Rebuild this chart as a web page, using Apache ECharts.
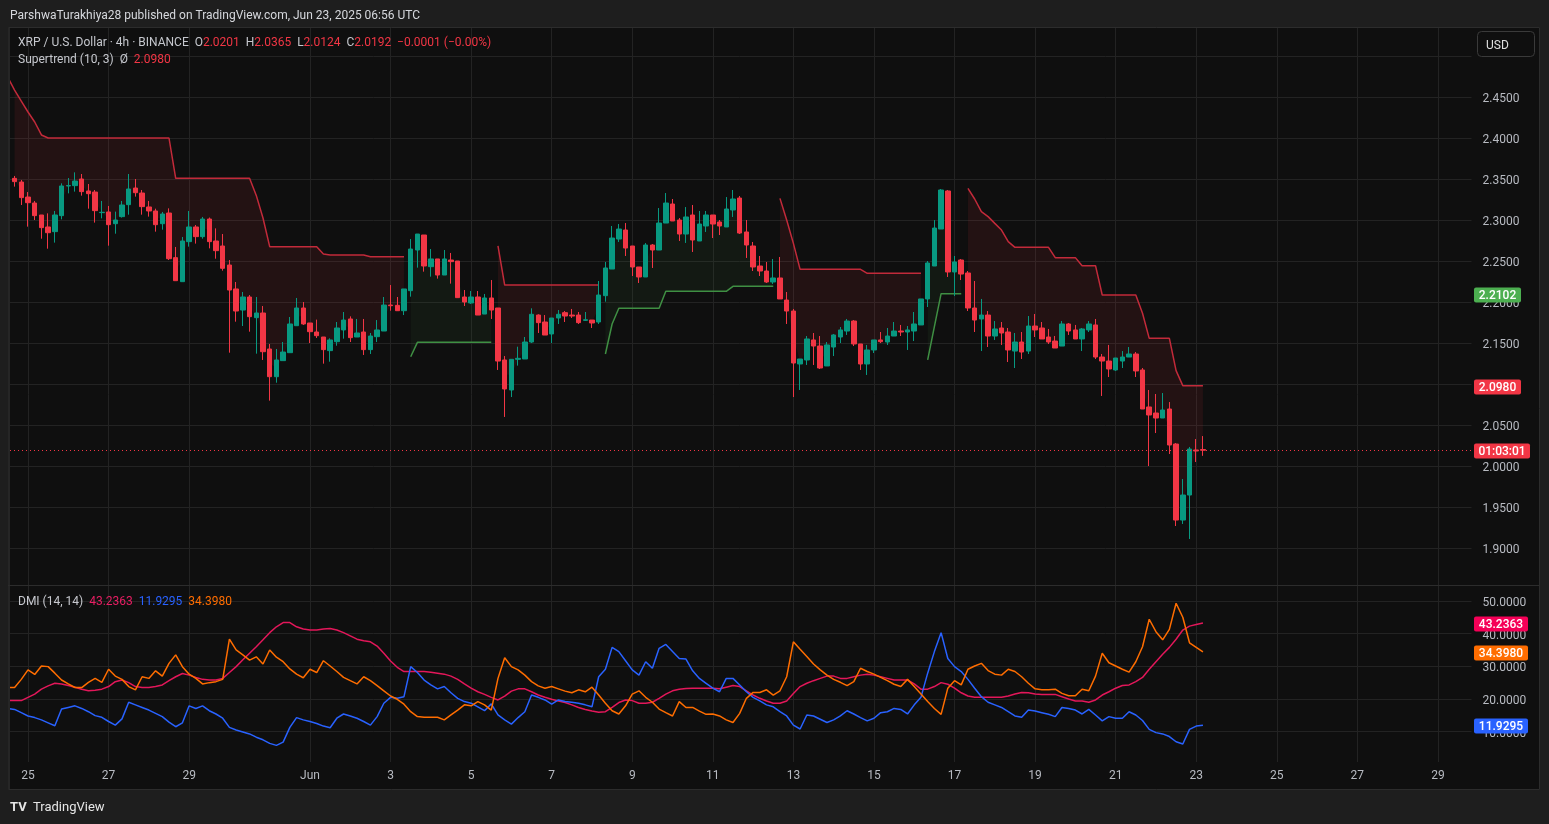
<!DOCTYPE html>
<html><head><meta charset="utf-8">
<script src="https://cdn.jsdelivr.net/npm/echarts/dist/echarts.min.js"></script>
<style>html,body{margin:0;padding:0;background:#1e1e1e;}#c{width:1549px;height:824px;}</style>
</head><body><div id="c"></div><script>
const _ = null;
// ---- OHLC (4h bars, first bar 2025-05-24 16:00 UTC) ----
const opens = [
2.3508,2.3463,2.3280,2.3207,2.3061,2.2915,2.2858,2.3053,2.3415,2.3419,
2.3500,2.3354,2.3341,2.3090,2.3098,2.2955,2.3041,2.3187,2.3390,2.3329,
2.3159,2.3110,2.2955,2.3085,2.2541,2.2248,2.2736,2.2915,2.2797,2.3012,
2.2744,2.2683,2.2451,2.2159,2.1902,2.2061,2.1809,2.1866,2.1427,2.1089,
2.1285,2.1382,2.1711,2.1927,2.1744,2.1634,2.1573,2.1407,2.1516,2.1659,
2.1793,2.1573,2.1634,2.1419,2.1577,2.1646,2.1963,2.1959,2.1894,2.2138,
2.2634,2.2817,2.2431,2.2525,2.2329,2.2512,2.2500,2.2061,2.1988,2.2061,
2.1853,2.2049,2.1927,2.1293,2.0927,2.1301,2.1305,2.1512,2.1841,2.1756,
2.1610,2.1805,2.1870,2.1841,2.1841,2.1776,2.1780,2.1756,2.2077,2.2402,
2.2768,2.2878,2.2683,2.2427,2.2305,2.2695,2.2634,2.2963,2.3195,2.3000,
2.2829,2.3061,2.2744,2.2927,2.3061,2.2976,2.2915,2.3122,2.3268,2.2854,
2.2683,2.2439,2.2378,2.2244,2.2293,2.2024,2.1890,2.1244,2.1293,2.1537,
2.1463,2.1220,2.1451,2.1573,2.1646,2.1768,2.1488,2.1244,2.1415,2.1537,
2.1512,2.1585,2.1646,2.1634,2.1646,2.1720,2.2037,2.2439,2.2890,2.3354,
2.2366,2.2512,2.2354,2.1927,2.1793,2.1841,2.1585,2.1683,2.1634,2.1402,
2.1512,2.1402,2.1707,2.1683,2.1573,2.1524,2.1463,2.1732,2.1659,2.1549,
2.1659,2.1720,2.1329,2.1280,2.1171,2.1280,2.1329,2.1366,2.1171,2.0720,
2.0646,2.0585,2.0695,2.0268,1.9341,1.9646,2.0195,2.0201];
const highs = [
2.3537,2.3488,2.3341,2.3232,2.3061,2.3081,2.3110,2.3447,2.3512,2.3581,
2.3561,2.3439,2.3366,2.3232,2.3171,2.3102,2.3232,2.3561,2.3500,2.3366,
2.3232,2.3138,2.3098,2.3142,2.2671,2.2793,2.3110,2.2939,2.3037,2.3030,
2.2898,2.2829,2.2512,2.2244,2.2122,2.2085,2.2061,2.1951,2.1488,2.1427,
2.1512,2.1817,2.2049,2.2000,2.1744,2.1785,2.1573,2.1557,2.1756,2.1878,
2.1825,2.1793,2.1793,2.1622,2.1780,2.2061,2.2207,2.2061,2.2159,2.2768,
2.2829,2.2817,2.2646,2.2525,2.2634,2.2598,2.2500,2.2146,2.2134,2.2134,
2.2098,2.2268,2.1927,2.1341,2.1301,2.1455,2.1573,2.1923,2.1850,2.1841,
2.1805,2.1902,2.1890,2.1915,2.1878,2.1878,2.1780,2.2256,2.2488,2.2927,
2.2951,2.2963,2.2683,2.2427,2.2719,2.2707,2.3146,2.3329,2.3256,2.3024,
2.3158,2.3183,2.3110,2.3110,2.3061,2.3000,2.3280,2.3366,2.3293,2.3000,
2.2732,2.2561,2.2488,2.2524,2.2549,2.2122,2.1915,2.1305,2.1585,2.1622,
2.1585,2.1512,2.1610,2.1695,2.1793,2.1780,2.1488,2.1476,2.1537,2.1634,
2.1683,2.1756,2.1720,2.1707,2.1878,2.2037,2.2500,2.2999,2.3378,2.3366,
2.2561,2.2524,2.2378,2.2256,2.2037,2.1890,2.1768,2.1756,2.1683,2.1622,
2.1634,2.1829,2.1854,2.1756,2.1671,2.1585,2.1768,2.1744,2.1720,2.1683,
2.1768,2.1793,2.1366,2.1476,2.1317,2.1402,2.1451,2.1390,2.1195,2.0927,
2.0878,2.0890,2.0780,2.0280,1.9841,2.0232,2.0329,2.0365];
const lows = [
2.3407,2.3183,2.2919,2.3000,2.2772,2.2650,2.2724,2.3008,2.3325,2.3346,
2.3297,2.3138,2.2968,2.3020,2.2687,2.2833,2.3029,2.3065,2.3285,2.3065,
2.3041,2.2858,2.2882,2.2512,2.2260,2.2248,2.2675,2.2712,2.2772,2.2654,
2.2528,2.2382,2.1382,2.1760,2.1707,2.1638,2.1370,2.1293,2.0797,2.1016,
2.1285,2.1382,2.1711,2.1720,2.1500,2.1561,2.1248,2.1272,2.1467,2.1553,
2.1512,2.1573,2.1354,2.1366,2.1512,2.1646,2.1894,2.1890,2.1841,2.2065,
2.2419,2.2370,2.2309,2.2285,2.2329,2.2224,2.2053,2.1951,2.1976,2.1841,
2.1853,2.1793,2.1171,2.0598,2.0841,2.1224,2.1305,2.1500,2.1622,2.1597,
2.1500,2.1732,2.1756,2.1805,2.1732,2.1768,2.1683,2.1732,2.2004,2.2402,
2.2732,2.2561,2.2317,2.2232,2.2305,2.2415,2.2634,2.2963,2.2988,2.2744,
2.2720,2.2610,2.2744,2.2854,2.2780,2.2817,2.2915,2.3037,2.2829,2.2537,
2.2378,2.2317,2.2232,2.2220,2.2037,2.1732,2.0841,2.0927,2.1232,2.1232,
2.1183,2.1220,2.1341,2.1500,2.1598,2.1463,2.1171,2.1110,2.1378,2.1500,
2.1476,2.1585,2.1585,2.1415,2.1524,2.1720,2.1939,2.2439,2.2890,2.2305,
2.2073,2.2268,2.1890,2.1634,2.1402,2.1451,2.1537,2.1476,2.1268,2.1195,
2.1305,2.1366,2.1573,2.1549,2.1488,2.1439,2.1463,2.1598,2.1549,2.1402,
2.1634,2.1305,2.0854,2.1085,2.1159,2.1195,2.1329,2.1085,2.0695,2.0000,
2.0402,2.0585,2.0146,1.9268,1.9293,1.9110,2.0049,2.0124];
const closes = [
2.3468,2.3273,2.3211,2.3053,2.2907,2.2845,2.3061,2.3415,2.3420,2.3475,
2.3346,2.3321,2.3114,2.3094,2.2943,2.3000,2.3183,2.3378,2.3333,2.3163,
2.3110,2.2943,2.3073,2.2528,2.2260,2.2744,2.2915,2.2797,2.3012,2.2736,
2.2626,2.2411,2.2146,2.1890,2.2061,2.1821,2.1866,2.1394,2.1089,2.1293,
2.1390,2.1732,2.1927,2.1732,2.1638,2.1589,2.1419,2.1537,2.1683,2.1780,
2.1565,2.1622,2.1419,2.1585,2.1659,2.1963,2.1955,2.1894,2.2159,2.2646,
2.2829,2.2439,2.2525,2.2329,2.2525,2.2492,2.2053,2.2000,2.2061,2.1841,
2.2049,2.1902,2.1280,2.0939,2.1301,2.1313,2.1512,2.1850,2.1748,2.1597,
2.1805,2.1850,2.1829,2.1829,2.1748,2.1784,2.1744,2.2085,2.2415,2.2780,
2.2890,2.2658,2.2427,2.2305,2.2695,2.2634,2.2963,2.3207,2.2988,2.2829,
2.3037,2.2756,2.2951,2.3061,2.2951,2.2927,2.3134,2.3256,2.2841,2.2695,
2.2427,2.2378,2.2244,2.2293,2.2037,2.1890,2.1256,2.1305,2.1549,2.1463,
2.1195,2.1476,2.1598,2.1659,2.1768,2.1488,2.1244,2.1415,2.1537,2.1516,
2.1585,2.1646,2.1634,2.1659,2.1732,2.2037,2.2476,2.2902,2.3366,2.2366,
2.2488,2.2341,2.1927,2.1780,2.1841,2.1585,2.1671,2.1622,2.1415,2.1512,
2.1390,2.1707,2.1659,2.1549,2.1512,2.1439,2.1732,2.1646,2.1549,2.1671,
2.1732,2.1329,2.1280,2.1183,2.1317,2.1329,2.1366,2.1159,2.0695,2.0622,
2.0585,2.0683,2.0256,1.9341,1.9646,2.0207,2.0183,2.0192];
// ---- Supertrend (10,3); first entry is the slot just before the first visible bar ----
const stDown = [2.4740,
2.4585,2.4451,2.4317,2.4195,2.4037,2.4000,2.4000,2.4000,2.4000,2.4000,
2.4000,2.4000,2.4000,2.4000,2.4000,2.4000,2.4000,2.4000,2.4000,2.4000,
2.4000,2.4000,2.4000,2.4000,2.3508,2.3508,2.3508,2.3508,2.3508,2.3508,
2.3508,2.3508,2.3508,2.3508,2.3508,2.3508,2.3300,2.3024,2.2675,2.2675,
2.2675,2.2675,2.2675,2.2675,2.2675,2.2675,2.2585,2.2573,2.2573,2.2573,
2.2573,2.2573,2.2573,2.2553,2.2553,2.2553,2.2553,2.2553,2.2553,_,
_,_,_,_,_,_,_,_,_,_,
_,_,2.2683,2.2207,2.2207,2.2207,2.2207,2.2207,2.2207,2.2207,
2.2207,2.2207,2.2207,2.2207,2.2207,2.2207,2.2207,2.2207,_,_,
_,_,_,_,_,_,_,_,_,_,
_,_,_,_,_,_,_,_,_,_,
_,_,_,_,2.3264,2.3000,2.2715,2.2398,2.2398,2.2398,
2.2398,2.2398,2.2398,2.2398,2.2398,2.2398,2.2398,2.2350,2.2350,2.2350,
2.2350,2.2350,2.2350,2.2350,2.2350,2.2350,_,_,_,_,
_,_,2.3386,2.3256,2.3102,2.3041,2.2959,2.2878,2.2736,2.2667,
2.2667,2.2667,2.2667,2.2667,2.2667,2.2541,2.2541,2.2541,2.2541,2.2443,
2.2443,2.2443,2.2085,2.2085,2.2085,2.2085,2.2085,2.2085,2.1862,2.1557,
2.1557,2.1557,2.1557,2.1163,2.0980,2.0980,2.0980,2.0980];
const stUp = [_,
_,_,_,_,_,_,_,_,_,_,
_,_,_,_,_,_,_,_,_,_,
_,_,_,_,_,_,_,_,_,_,
_,_,_,_,_,_,_,_,_,_,
_,_,_,_,_,_,_,_,_,_,
_,_,_,_,_,_,_,_,_,2.1333,
2.1508,2.1508,2.1508,2.1508,2.1508,2.1508,2.1508,2.1508,2.1508,2.1508,
2.1508,2.1508,_,_,_,_,_,_,_,_,
_,_,_,_,_,_,_,_,2.1366,2.1732,
2.1923,2.1923,2.1923,2.1923,2.1923,2.1923,2.1923,2.2130,2.2130,2.2130,
2.2130,2.2130,2.2130,2.2130,2.2130,2.2130,2.2130,2.2191,2.2191,2.2191,
2.2191,2.2191,2.2191,2.2191,_,_,_,_,_,_,
_,_,_,_,_,_,_,_,_,_,
_,_,_,_,_,_,2.1293,2.1699,2.2102,2.2102,
2.2102,2.2102,_,_,_,_,_,_,_,_,
_,_,_,_,_,_,_,_,_,_,
_,_,_,_,_,_,_,_,_,_,
_,_,_,_,_,_,_,_];
// ---- DMI (14,14); first entry is the slot just before the first visible bar ----
const adx = [19.5,
19.5,19.5,20.5,21.5,23.0,24.0,24.8,24.6,24.1,23.6,
23.0,22.5,22.7,23.0,23.8,25.3,25.8,25.0,23.8,23.5,
23.5,23.8,24.3,25.6,26.8,27.8,27.3,26.6,26.0,25.8,
25.8,26.3,28.1,29.9,32.0,34.0,36.0,38.1,40.3,42.1,
43.4,43.4,42.1,41.4,41.1,41.1,41.4,41.6,41.1,40.3,
39.3,38.3,37.8,37.5,36.2,34.0,31.6,29.7,28.4,28.4,
28.4,28.4,28.2,27.9,27.6,27.0,26.0,24.6,23.3,22.2,
21.4,20.5,19.7,20.9,22.4,23.1,23.1,22.2,21.2,20.5,
19.9,19.4,18.9,18.2,17.4,16.8,16.3,15.9,16.1,17.4,
18.9,19.7,19.5,18.7,18.7,19.0,20.2,21.5,22.5,23.0,
23.2,23.3,23.3,23.3,23.3,23.1,23.6,24.1,23.8,22.5,
21.2,20.2,19.4,18.7,18.7,19.4,21.7,23.8,24.8,25.6,
26.3,27.0,27.0,26.3,26.3,26.8,27.3,27.6,27.3,26.8,
26.3,25.8,25.8,25.8,24.6,23.0,23.0,23.8,25.0,24.5,
23.3,21.9,20.9,20.5,20.5,20.5,20.5,20.5,20.9,21.5,
22.0,21.9,21.5,21.4,21.4,21.4,20.7,20.0,19.4,19.4,
19.0,19.7,21.2,22.2,23.3,24.1,24.3,25.3,26.6,29.1,
31.4,33.7,35.8,38.3,41.1,42.3,42.8,43.2363];
const plusDI = [17.1,
16.8,15.8,14.8,14.3,13.6,12.7,11.8,16.9,17.4,17.9,
17.1,16.1,14.9,14.4,13.1,12.0,13.9,19.0,18.2,17.4,
16.6,15.6,14.6,12.9,11.5,12.7,17.9,17.1,17.9,16.4,
15.4,14.1,11.3,10.5,9.9,9.3,8.3,7.5,6.4,5.8,
6.8,11.3,14.3,13.6,13.1,12.5,11.7,11.2,14.1,15.4,
14.8,14.1,13.1,12.0,14.6,18.7,20.5,20.2,20.7,29.9,
28.1,25.8,24.3,23.1,23.8,21.9,20.2,19.2,18.7,17.6,
16.4,18.5,15.1,13.6,12.3,14.3,16.1,21.2,20.5,19.7,
18.4,19.7,19.2,19.0,18.7,18.2,17.6,26.8,29.1,35.8,
34.5,31.7,28.9,27.3,31.4,29.4,35.5,36.7,34.5,32.4,
32.2,28.6,26.3,24.8,23.3,22.2,26.3,26.3,24.3,22.2,
20.5,19.4,18.2,17.6,16.1,14.8,12.0,10.8,15.1,14.8,
13.8,12.8,13.6,14.8,16.4,15.4,14.3,13.3,14.1,15.8,
16.1,17.1,16.8,15.4,18.2,20.5,27.9,34.5,40.3,32.4,
29.9,28.4,26.0,23.3,20.7,19.0,18.2,17.4,16.1,14.8,
14.4,16.6,16.3,15.8,15.3,14.6,17.4,17.1,16.6,15.4,
16.8,15.1,13.3,14.6,14.1,14.1,16.1,15.1,13.4,10.7,
9.7,9.3,8.5,6.9,6.2,10.7,11.7,11.9295];
const minusDI = [23.5,
23.5,26.0,28.9,27.5,30.1,29.9,27.9,25.8,24.6,23.5,
23.5,25.1,26.3,25.1,29.1,27.0,26.0,23.8,22.8,26.8,
26.3,28.6,27.0,30.9,33.5,29.9,27.6,26.3,24.6,25.0,
25.3,26.0,38.3,35.0,33.5,31.9,32.9,30.7,35.0,32.8,
31.4,29.2,27.6,26.5,29.1,28.1,31.7,30.1,28.4,26.6,
25.6,24.6,26.8,25.6,24.1,22.5,20.9,19.9,18.4,16.1,
14.6,14.4,14.4,14.4,13.6,15.1,16.6,18.2,17.9,19.2,
18.2,16.6,26.3,32.6,29.9,28.9,27.3,25.3,24.0,23.3,
23.8,23.1,22.4,21.9,22.8,22.2,23.6,21.2,18.7,16.4,
15.4,17.9,21.5,22.5,20.5,19.0,16.9,15.8,14.8,19.2,
17.4,17.4,16.3,15.3,15.4,14.8,13.6,12.8,15.6,20.2,
22.0,22.0,22.8,21.2,22.5,26.8,37.5,35.2,33.0,30.7,
28.9,27.3,26.0,25.1,24.1,25.3,29.4,28.4,27.6,26.6,
25.6,24.5,23.8,26.0,23.8,21.5,19.2,17.1,15.3,23.3,
25.6,24.3,29.1,30.1,30.9,28.7,27.6,27.3,29.1,28.4,
26.8,24.8,23.1,22.8,22.8,23.0,21.7,21.0,21.0,23.0,
22.5,27.0,34.0,31.1,30.1,29.1,28.2,31.4,36.0,44.4,
40.6,38.1,41.3,49.3,45.0,37.2,35.8,34.3980];
// ---- time axis tick labels ----
const tickDates = ['2025-05-25','2025-05-27','2025-05-29','2025-06-01','2025-06-03','2025-06-05','2025-06-07','2025-06-09','2025-06-11','2025-06-13','2025-06-15','2025-06-17','2025-06-19','2025-06-21','2025-06-23','2025-06-25','2025-06-27','2025-06-29'];
const tickLabels = ['25','27','29','Jun','3','5','7','9','11','13','15','17','19','21','23','25','27','29'];

// ---- build ----
const H4 = 4*3600*1000;
const start = Date.UTC(2025,4,24,12); // slot before first visible bar
const NCAT = 219;
const cats = [];
for (let k=0;k<NCAT;k++) cats.push(new Date(start+k*H4).toISOString().slice(0,16));
const labelAt = {};
tickDates.forEach((d,j)=>{ const k=Math.round((Date.parse(d+'T00:00:00Z')-start)/H4); labelAt[k]=tickLabels[j]; });
const isTick = (idx)=> labelAt[idx]!==undefined;
const place0 = arr => cats.map((c,k)=> (k<arr.length && arr[k]!=null) ? arr[k] : '-');
const candleData = cats.map((c,k)=>{const i=k-1; return (i>=0&&i<opens.length)?[opens[i],closes[i],lows[i],highs[i]]:'-';});
const midAt = k => { const i=k-1; return (i>=0&&i<opens.length) ? (opens[i]+closes[i])/2 : null; };
const redBase = place0(stDown.map((v,k)=>(v==null||midAt(k)==null)?null:midAt(k)));
const redBand = place0(stDown.map((v,k)=>(v==null||midAt(k)==null)?null:v-midAt(k)));
const grnBase = place0(stUp.map((v,k)=>(v==null||midAt(k)==null)?null:v));
const grnBand = place0(stUp.map((v,k)=>(v==null||midAt(k)==null)?null:midAt(k)-v));

const FONT = 'Roboto, "Noto Sans", sans-serif';
const GRID = '#232323';
const AXC = '#b8bbc2';
const L = 7.86, R = 77.5;
const hidden = {show:false};
const lblRich = {a:{color:AXC, fontSize:12, fontFamily:FONT, padding:[4,0,0,0]}};
const chart = echarts.init(document.getElementById('c'), null, {renderer:'canvas'});
const xBase = (gi, labels) => ({
  type:'category', gridIndex:gi, data:cats, boundaryGap:false,
  axisLine:hidden, axisTick:hidden,
  axisLabel: labels ? {show:true, interval:(i)=>isTick(i), formatter:(v,i)=>labelAt[i]||'', color:AXC, fontSize:12, fontFamily:FONT, margin:6} : hidden,
  splitLine: gi===2 ? {show:true, interval:(i)=>isTick(i), lineStyle:{color:GRID, width:1}} : hidden
});
const lineS = (name, data, color, xi, yi, extra) => Object.assign({
  name, type:'line', data, xAxisIndex:xi, yAxisIndex:yi, symbol:'none', showSymbol:false,
  connectNulls:false, lineStyle:{color, width:1.5}, itemStyle:{color}, silent:true, animation:false
}, extra||{});

chart.setOption({
  animation:false,
  backgroundColor:'#0f0f0f',
  grid:[
    {left:L, right:R, top:15, height:574},
    {left:L, right:R, top:568.3, height:196},
    {left:L, right:R, top:27, height:735}
  ],
  xAxis:[ xBase(0,false), xBase(1,true), xBase(2,false) ],
  yAxis:[
    {type:'value', gridIndex:0, position:'right', min:1.85, max:2.55, interval:0.05,
     axisLine:hidden, axisTick:hidden,
     axisLabel:{color:AXC, fontSize:12, fontFamily:FONT, margin:11, rich:lblRich, formatter:v=>(v>2.47||v<1.87)?'':'{a|'+v.toFixed(4)+'}'},
     splitLine:{show:true, showMinLine:false, showMaxLine:false, lineStyle:{color:GRID}}},
    {type:'value', gridIndex:1, position:'right', min:0, max:60, interval:10,
     axisLine:hidden, axisTick:hidden,
     axisLabel:{color:AXC, fontSize:12, fontFamily:FONT, margin:11, rich:lblRich, formatter:v=>(v<5||v>55)?'':'{a|'+v.toFixed(4)+'}'},
     splitLine:{show:true, showMinLine:false, showMaxLine:false, lineStyle:{color:GRID}}},
    {type:'value', gridIndex:2, show:false, min:0, max:1, splitLine:hidden}
  ],
  series:[
    lineS('redBase', redBase, 'rgba(0,0,0,0)', 0, 0, {stack:'r', stackStrategy:'all', lineStyle:{width:0, opacity:0}, z:1}),
    lineS('redBand', redBand, 'rgba(0,0,0,0)', 0, 0, {stack:'r', stackStrategy:'all', lineStyle:{width:0, opacity:0}, areaStyle:{color:'rgba(242,54,69,0.13)'}, z:1}),
    lineS('grnBase', grnBase, 'rgba(0,0,0,0)', 0, 0, {stack:'g', stackStrategy:'all', lineStyle:{width:0, opacity:0}, z:1}),
    lineS('grnBand', grnBand, 'rgba(0,0,0,0)', 0, 0, {stack:'g', stackStrategy:'all', lineStyle:{width:0, opacity:0}, areaStyle:{color:'rgba(76,175,80,0.09)'}, z:1}),
    lineS('Supertrend down', place0(stDown), '#c22a3a', 0, 0, {z:2}),
    lineS('Supertrend up', place0(stUp), '#3f8f43', 0, 0, {z:2}),
    {name:'XRPUSD', type:'candlestick', xAxisIndex:0, yAxisIndex:0, data:candleData, barWidth:5, z:3, silent:true,
     itemStyle:{color:'#089981', color0:'#f23645', borderColor:'#089981', borderColor0:'#f23645', borderWidth:1}},
    lineS('ADX', place0(adx), '#e91e63', 1, 1, {lineStyle:{color:'#e3175a', width:1.5}}),
    lineS('+DI', place0(plusDI), '#2962ff', 1, 1),
    lineS('-DI', place0(minusDI), '#ff6d00', 1, 1)
  ]
});

// ---- overlays: header, tags, frame ----
const yp = v => chart.convertToPixel({yAxisIndex:0}, v);
const yd = v => chart.convertToPixel({yAxisIndex:1}, v);
const OUT = '#1e1e1e';
const tag = (y, text, bg, w) => ({type:'group', z:120, children:[
  {type:'rect', shape:{x:1474, y:Math.round(y)-6.5, width:w, height:15, r:2}, style:{fill:bg}, z:120},
  {type:'text', x:1474+w/2, y:Math.round(y)+1.5, style:{text, fill:'#ffffff', fontSize:12, fontFamily:FONT, fontWeight:500, align:'center', verticalAlign:'middle'}, z:121}
]});
const rich = {
  g:{fill:'#c6c8ce', fontSize:12, fontFamily:FONT},
  r:{fill:'#f23645', fontSize:12, fontFamily:FONT},
  p:{fill:'#e91e63', fontSize:12, fontFamily:FONT},
  b:{fill:'#2962ff', fontSize:12, fontFamily:FONT},
  o:{fill:'#ff6d00', fontSize:12, fontFamily:FONT}
};
const pLast = closes[closes.length-1];
const yPL = Math.round(yp(pLast))+0.5;
chart.setOption({graphic:[
  {type:'rect', shape:{x:0,y:0,width:1549,height:27}, style:{fill:OUT}, z:50, silent:true},
  {type:'rect', shape:{x:0,y:790,width:1549,height:34}, style:{fill:OUT}, z:50, silent:true},
  {type:'rect', shape:{x:0,y:0,width:8,height:824}, style:{fill:OUT}, z:50, silent:true},
  {type:'rect', shape:{x:1540,y:0,width:9,height:824}, style:{fill:OUT}, z:50, silent:true},
  {type:'rect', shape:{x:8.5,y:27.5,width:1531,height:762}, style:{fill:'none', stroke:'#2c2c2c', lineWidth:1}, z:51, silent:true},
  {type:'rect', shape:{x:8,y:28,width:2,height:761}, style:{fill:'#262626'}, z:51, silent:true},
  {type:'line', shape:{x1:8,y1:585.5,x2:1540,y2:585.5}, style:{stroke:'#2c2c2c', lineWidth:1}, z:51, silent:true},
  {type:'line', shape:{x1:10,y1:yPL,x2:1472,y2:yPL}, style:{stroke:'#f23645', lineWidth:1, lineDash:[1,3]}, z:60, silent:true},
  {type:'text', x:10, y:16, style:{text:'ParshwaTurakhiya28 published on TradingView.com, Jun 23, 2025 06:56 UTC', fill:'#d6d8dd', fontSize:12, fontFamily:FONT, verticalAlign:'middle'}, z:100},
  {type:'text', x:18, y:43, style:{text:'{g|XRP / U.S. Dollar · 4h · BINANCE}  {g|O}{r|2.0201}  {g|H}{r|2.0365}  {g|L}{r|2.0124}  {g|C}{r|2.0192}  {r|−0.0001 (−0.00%)}', rich, fontSize:12, fontFamily:FONT, verticalAlign:'middle'}, z:100},
  {type:'text', x:18, y:60, style:{text:'{g|Supertrend (10, 3)}  {g|Ø}  {r|2.0980}', rich, fontSize:12, fontFamily:FONT, verticalAlign:'middle'}, z:100},
  {type:'text', x:18, y:602, style:{text:'{g|DMI (14, 14)}  {p|43.2363}  {b|11.9295}  {o|34.3980}', rich, fontSize:12, fontFamily:FONT, verticalAlign:'middle'}, z:100},
  {type:'rect', shape:{x:1477.5,y:31.5,width:57,height:25,r:4}, style:{fill:'#0f0f0f', stroke:'#3a3a3a', lineWidth:1}, z:100},
  {type:'text', x:1486, y:46, style:{text:'USD', fill:'#e0e0e0', fontSize:12, fontFamily:FONT, verticalAlign:'middle'}, z:101},
  tag(yp(2.2102), '2.2102', '#4caf50', 47),
  tag(yp(2.0980), '2.0980', '#f23645', 47),
  tag(yp(pLast), '01:03:01', '#f23645', 56),
  tag(yd(43.2363), '43.2363', '#f50057', 54),
  tag(yd(34.3980), '34.3980', '#ff6d00', 54),
  tag(yd(11.9295), '11.9295', '#2962ff', 54),
  {type:'text', x:10, y:808, style:{text:'TV', fill:'#e6e6e6', fontSize:13, fontWeight:'bold', fontFamily:FONT, verticalAlign:'middle'}, z:100},
  {type:'text', x:33, y:808, style:{text:'TradingView', fill:'#e6e6e6', fontSize:13, fontFamily:FONT, verticalAlign:'middle'}, z:100}
]});
</script></body></html>
